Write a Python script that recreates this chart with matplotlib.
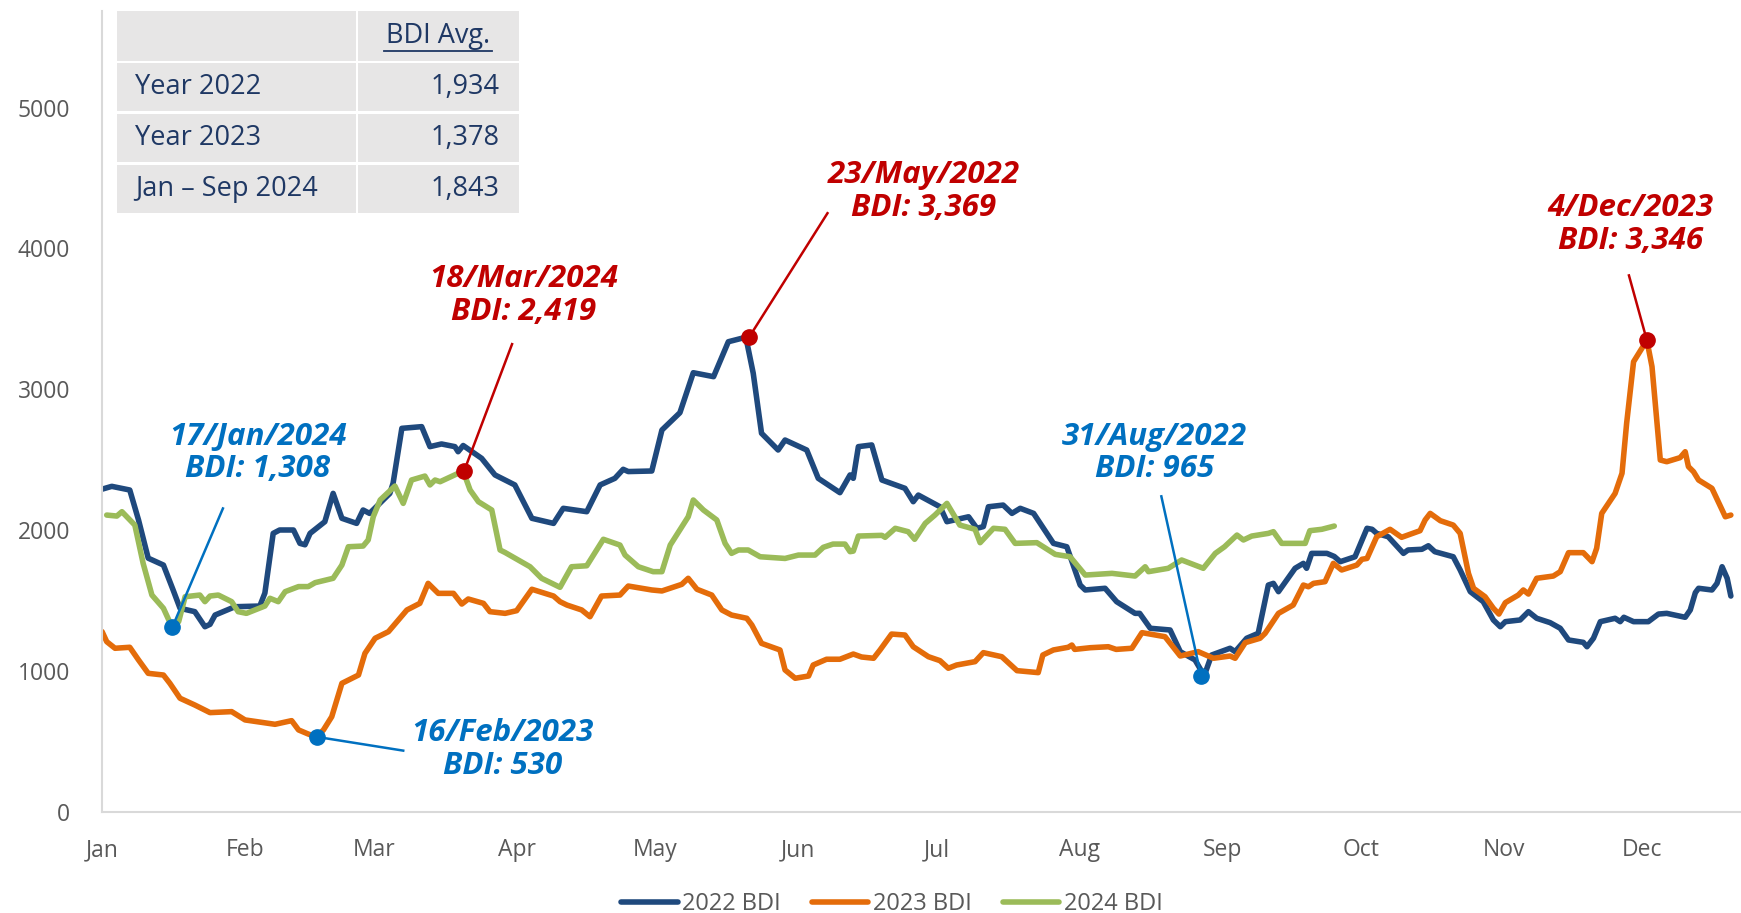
import matplotlib
matplotlib.use('Agg')
import matplotlib.pyplot as plt
from matplotlib.patches import Rectangle
from matplotlib.lines import Line2D

plt.rcParams['font.family'] = ['Open Sans', 'DejaVu Sans']

# x = day of the year (0 = 1 Jan), y = BDI level
days_2022 = [0, 2.1, 6, 7.9, 10, 13.3, 15.4, 16.9, 20.1, 22.3, 23.4, 24.5, 28.8, 34.2, 35.3, 37.1,
             38.5, 41.5, 42.9, 44, 45.1, 48.3, 50.1, 52, 55.2, 56.6, 58, 62.4, 63.1, 65, 69.3, 71.1,
             73.6, 76.5, 77.2, 78.3, 82.3, 85.2, 89.5, 93.2, 97.9, 100, 105.1, 108, 111.2, 113, 114.1,
             119.2, 121.4, 125.3, 128.2, 132.6, 135.8, 139.6, 141.2, 143, 146.6, 148.1, 152.8, 155.3,
             160, 162.2, 162.9, 164, 166.9, 169.1, 174.1, 175.9, 177, 181.7, 183.2, 187.9, 189.7,
             191.1, 192.2, 195.4, 197.3, 199.1, 202, 206.3, 209.2, 212.1, 213.2, 217.5, 220, 224,
             225, 227.3, 231.6, 233.8, 237, 239, 240.6, 244.6, 245.7, 248.2, 250.7, 252.9, 254,
             255.1, 258.7, 260.5, 261.2, 262.3, 265.6, 267.2, 268.5, 271.7, 274.3, 275.4, 276.4,
             278.9, 282.2, 283.2, 286.2, 287.6, 289, 293, 294.5, 296.7, 299.5, 301.7, 303.2, 304.3,
             307.5, 309.3, 311.1, 314, 316.2, 318, 321.2, 322, 323.4, 324.9, 328.1, 329.2, 330,
             332.1, 335.3, 337.5, 339.3, 343.3, 344.4, 345.5, 346.2, 349.1, 350.2, 351.3, 352.4, 353.2]
bdi_2022 = [2290, 2310, 2284, 2071, 1800, 1751, 1574, 1444, 1420, 1313, 1330, 1396, 1455, 1460, 1552, 1976,
            2000, 2000, 1905, 1895, 1976, 2059, 2260, 2083, 2047, 2142, 2118, 2260, 2332, 2722, 2734, 2592,
            2611, 2592, 2556, 2600, 2509, 2391, 2320, 2083, 2047, 2154, 2130, 2320, 2367, 2431, 2415,
            2419, 2710, 2833, 3117, 3089, 3337, 3369, 3113, 2687, 2568, 2639, 2568, 2367,
            2265, 2391, 2367, 2592, 2604, 2355, 2296, 2201, 2248, 2165, 2059, 2094, 2012,
            2024, 2165, 2177, 2118, 2154, 2118, 1905, 1881, 1609, 1574, 1586, 1491, 1408,
            1408, 1302, 1290, 1136, 1077, 965, 1112, 1160, 1136, 1231, 1266, 1609, 1621,
            1562, 1728, 1763, 1728, 1834, 1834, 1812, 1775, 1810, 2012, 2005, 1976,
            1952, 1834, 1858, 1863, 1888, 1846, 1810, 1716, 1562, 1491, 1361, 1313, 1349,
            1361, 1420, 1373, 1342, 1302, 1219, 1202, 1171, 1231, 1349, 1373, 1349, 1380,
            1349, 1349, 1403, 1408, 1380, 1432, 1555, 1586, 1574, 1621, 1739, 1657, 1531]

days_2023 = [0, 1, 2.8, 6, 7.9, 10, 13.3, 14.7, 16.9, 20.1, 23.4, 28.1, 31, 36, 37.5, 41.1, 42.6, 44.7,
             46.5, 48, 49.8, 52, 55.6, 57, 59.2, 62.1, 66.1, 68.9, 70.7, 72.9, 76.2, 78, 79.4, 82.7,
             84.1, 87.4, 89.9, 93.2, 97.9, 99.3, 100.8, 104, 105.8, 108.3, 112.3, 114.1, 119.2, 121.4,
             125.7, 127.1, 129, 132.2, 134.4, 136.5, 139.8, 140.9, 143, 147, 148.1, 150.3, 153.2,
             154.2, 157.1, 160, 162.9, 164.7, 167.3, 168.7, 171.2, 174.1, 175.9, 179.2, 181.7, 183.5,
             185.3, 189.3, 191.1, 195.1, 198.4, 203, 204, 206.3, 209.5, 210.3, 210.9, 214.3, 218.2,
             219.9, 223.3, 225.5, 229.4, 230.5, 233.8, 237.7, 241, 244.6, 245.7, 247.9, 251.1, 252.2,
             255.1, 258.3, 260.5, 261.6, 262.7, 265.2, 267, 268.8, 272.1, 273.2, 274.3, 276.4, 279.3,
             281.8, 285.8, 286.9, 288, 290.2, 293, 294.5, 296.3, 297.4, 299.9, 301.7, 302.9, 304.3,
             307.1, 308.2, 309.3, 311.1, 314.7, 316.2, 318, 321.2, 323.1, 324.1, 325.2, 328.1, 329.6,
             330.6, 332.1, 333.9, 335, 336.1, 337.9, 339.3, 342.2, 343.3, 344, 345.1, 346.2, 349.1,
             352, 353.2]
bdi_2023 = [1278, 1207, 1160, 1167, 1077, 982, 970, 911, 805, 757, 703, 710, 651, 627, 620, 646, 580, 551,
            530, 580, 674, 911, 970, 1124, 1231, 1278, 1432, 1479, 1621, 1550, 1550, 1474, 1510, 1479,
            1420, 1408, 1427, 1579, 1531, 1491, 1467, 1432, 1384, 1531, 1538, 1602, 1574, 1567,
            1614, 1657, 1579, 1538, 1432, 1396, 1373, 1325, 1195, 1148, 1006, 947, 963,
            1041, 1082, 1082, 1119, 1098, 1089, 1148, 1261, 1254, 1171, 1100, 1072, 1018,
            1041, 1065, 1129, 1100, 1001, 987, 1112, 1148, 1167, 1183, 1152, 1164, 1171,
            1152, 1160, 1271, 1249, 1242, 1105, 1136, 1089, 1105, 1089, 1200, 1231, 1266,
            1408, 1467, 1609, 1597, 1621, 1633, 1763, 1716, 1751, 1792, 1798, 1952, 2005,
            1948, 1995, 2071, 2118, 2066, 2035, 1976, 1692, 1586, 1526, 1444, 1403, 1484,
            1538, 1574, 1545, 1657, 1673, 1704, 1839, 1839, 1775, 1870, 2118, 2260, 2403,
            2758, 3195, 3290, 3346, 3160, 2497, 2485, 2514, 2556, 2450, 2414, 2355, 2296,
            2094, 2106]

days_2024 = [1, 3.2, 4.3, 7.1, 8.9, 10.8, 13.3, 15.2, 16.6, 18, 21.2, 22.3, 23.4, 25.2, 28.1, 29.5, 31.3,
             35.3, 36.4, 38.2, 39.7, 42.6, 44.7, 46.2, 50.1, 52, 53.4, 56.6, 57.7, 58.8, 60.3, 63.5,
             65.3, 67.1, 70, 71.1, 72.2, 73.3, 78.3, 79.8, 81.6, 84.5, 86.3, 87.4, 92.8, 95.3, 99.3,
             101.8, 105.1, 108.7, 112.3, 113.4, 116.3, 119.5, 121.4, 123.2, 127.1, 128.2, 130.4, 133.3,
             135.1, 136.5, 138, 140.1, 142.7, 148.1, 151, 154.6, 156.4, 158.5, 161.1, 162.2, 162.9,
             164, 169.1, 169.8, 172, 174.8, 176.2, 178.5, 180.6, 183.2, 186, 189.3, 190.4, 193.3,
             195.8, 198, 202.7, 206.7, 209.9, 213.2, 219, 224, 226.2, 226.9, 231.2, 234.1, 238.8,
             241.4, 243.4, 246.1, 247.5, 249.3, 252.9, 254, 255.8, 260.9, 261.9, 264.5, 267.2]
bdi_2024 = [2106, 2099, 2130, 2035, 1763, 1538, 1444, 1308, 1349, 1526, 1538, 1491, 1531, 1538, 1491, 1420, 1408,
            1460, 1515, 1491, 1562, 1598, 1598, 1626, 1657, 1751, 1881, 1886, 1929, 2094, 2213, 2312,
            2189, 2355, 2383, 2320, 2355, 2343, 2419, 2284, 2201, 2142, 1858, 1840, 1739, 1657, 1593,
            1739, 1746, 1934, 1893, 1822, 1739, 1704, 1704, 1893, 2094, 2213, 2142, 2071,
            1905, 1834, 1858, 1858, 1810, 1798, 1822, 1822, 1877, 1900, 1900, 1846, 1850,
            1957, 1962, 1948, 2012, 1988, 1934, 2047, 2106, 2189, 2035, 2005, 1910, 2012,
            2005, 1905, 1910, 1827, 1810, 1680, 1692, 1673, 1739, 1704, 1728, 1787, 1728,
            1834, 1881, 1964, 1929, 1957, 1976, 1988, 1905, 1905, 1995, 2005, 2028]

series_names = ['2022 BDI', '2023 BDI', '2024 BDI']
series_colors = ['#1F497D', '#E46C0A', '#9BBB59']

months = ['Jan', 'Feb', 'Mar', 'Apr', 'May', 'Jun', 'Jul', 'Aug', 'Sep', 'Oct', 'Nov', 'Dec']
month_start = [0, 31, 59, 90, 120, 151, 181, 212, 243, 273, 304, 334]
y_ticks = [0, 1000, 2000, 3000, 4000, 5000]

# summary table
table_rows = ['Year 2022', 'Year 2023', 'Jan \u2013 Sep 2024']
table_avg = [1934, 1378, 1843]

# highlighted highs / lows
ann_dates = ['17/Jan/2024', '16/Feb/2023', '18/Mar/2024', '23/May/2022', '31/Aug/2022', '4/Dec/2023']
ann_days = [15.2, 46.7, 78.5, 140.3, 238.3, 335]
ann_values = [1308, 530, 2419, 3369, 965, 3346]
ann_colors = ['#0070C0', '#0070C0', '#C00000', '#C00000', '#0070C0', '#C00000']
# label centre and leader-line start, in data units (layout only)
ann_text_pos = [(33.8, 2547), (86.8, 441), (91.5, 3667), (178.1, 4404), (228.2, 2547), (331.4, 4171)]
ann_line_start = [(26.2, 2153), (65.3, 433), (88.9, 3320), (157.3, 4250), (229.7, 2239), (331.1, 3808)]

W, H = 1741, 913
fig = plt.figure(figsize=(W / 100, H / 100), dpi=100)
ax = fig.add_axes([102.1 / W, (H - 811.6) / H, (W - 102.1) / W, (811.6 - 11) / H])

for d, v, name, c in zip([days_2022, days_2023, days_2024], [bdi_2022, bdi_2023, bdi_2024],
                         series_names, series_colors):
    ax.plot(d, v, color=c, lw=4, label=name, solid_joinstyle='round', solid_capstyle='round')

for i in range(len(ann_dates)):
    c = ann_colors[i]
    x0, y0 = ann_line_start[i]
    ax.plot([x0, ann_days[i]], [y0, ann_values[i]], color=c, lw=1.8, zorder=5)
    ax.plot(ann_days[i], ann_values[i], 'o', color=c, ms=11, zorder=6)
    tx, ty = ann_text_pos[i]
    ax.text(tx, ty, ann_dates[i] + '\nBDI: ' + f'{ann_values[i]:,}', color=c,
            fontsize=22.5, fontweight='bold', fontstyle='italic', ha='center', va='center',
            linespacing=1.12, zorder=7)

ax.set_xlim(0, 355.4)
ax.set_ylim(0, 5686)
ax.set_xticks(month_start)
ax.set_xticklabels(months)
ax.set_yticks(y_ticks)
ax.tick_params(axis='both', length=0, labelsize=16.5, labelcolor='#595959')
ax.tick_params(axis='y', pad=23)
ax.tick_params(axis='x', pad=19)
for s in ['top', 'right']:
    ax.spines[s].set_visible(False)
for s in ['left', 'bottom']:
    ax.spines[s].set_color('#D9D9D9')
    ax.spines[s].set_linewidth(1.5)

# table drawn in pixel layout
def fx(px):
    return px / W

def fy(py):
    return 1 - py / H

cols = [(117, 356), (358, 518.6)]
rows = [(11, 61), (63, 111), (114, 162), (165, 213)]
for (r0, r1) in rows:
    for (c0, c1) in cols:
        fig.add_artist(Rectangle((fx(c0), fy(r1)), fx(c1 - c0), (r1 - r0) / H,
                                 transform=fig.transFigure, facecolor='#E7E6E6', edgecolor='none'))
txt_col = '#1F3864'
fig.text(fx(437.8), fy(36), 'BDI Avg.', ha='center', va='center', fontsize=19.5, color=txt_col)
fig.add_artist(Line2D([fx(384), fx(492)], [fy(51), fy(51)], transform=fig.transFigure,
                      color=txt_col, lw=1.3))
for (r0, r1), lab, val in zip(rows[1:], table_rows, table_avg):
    yc = fy((r0 + r1) / 2)
    fig.text(fx(135), yc, lab, ha='left', va='center', fontsize=19.5, color=txt_col)
    fig.text(fx(500), yc, f'{val:,}', ha='right', va='center', fontsize=19.5, color=txt_col)

fig.legend(loc='center', bbox_to_anchor=(892 / W, fy(904)), ncol=3, frameon=False,
           fontsize=17, labelcolor='#595959', handlelength=2.4, handletextpad=0.2,
           columnspacing=1.3, borderpad=0.2)

fig.savefig('out.png', dpi=100)
